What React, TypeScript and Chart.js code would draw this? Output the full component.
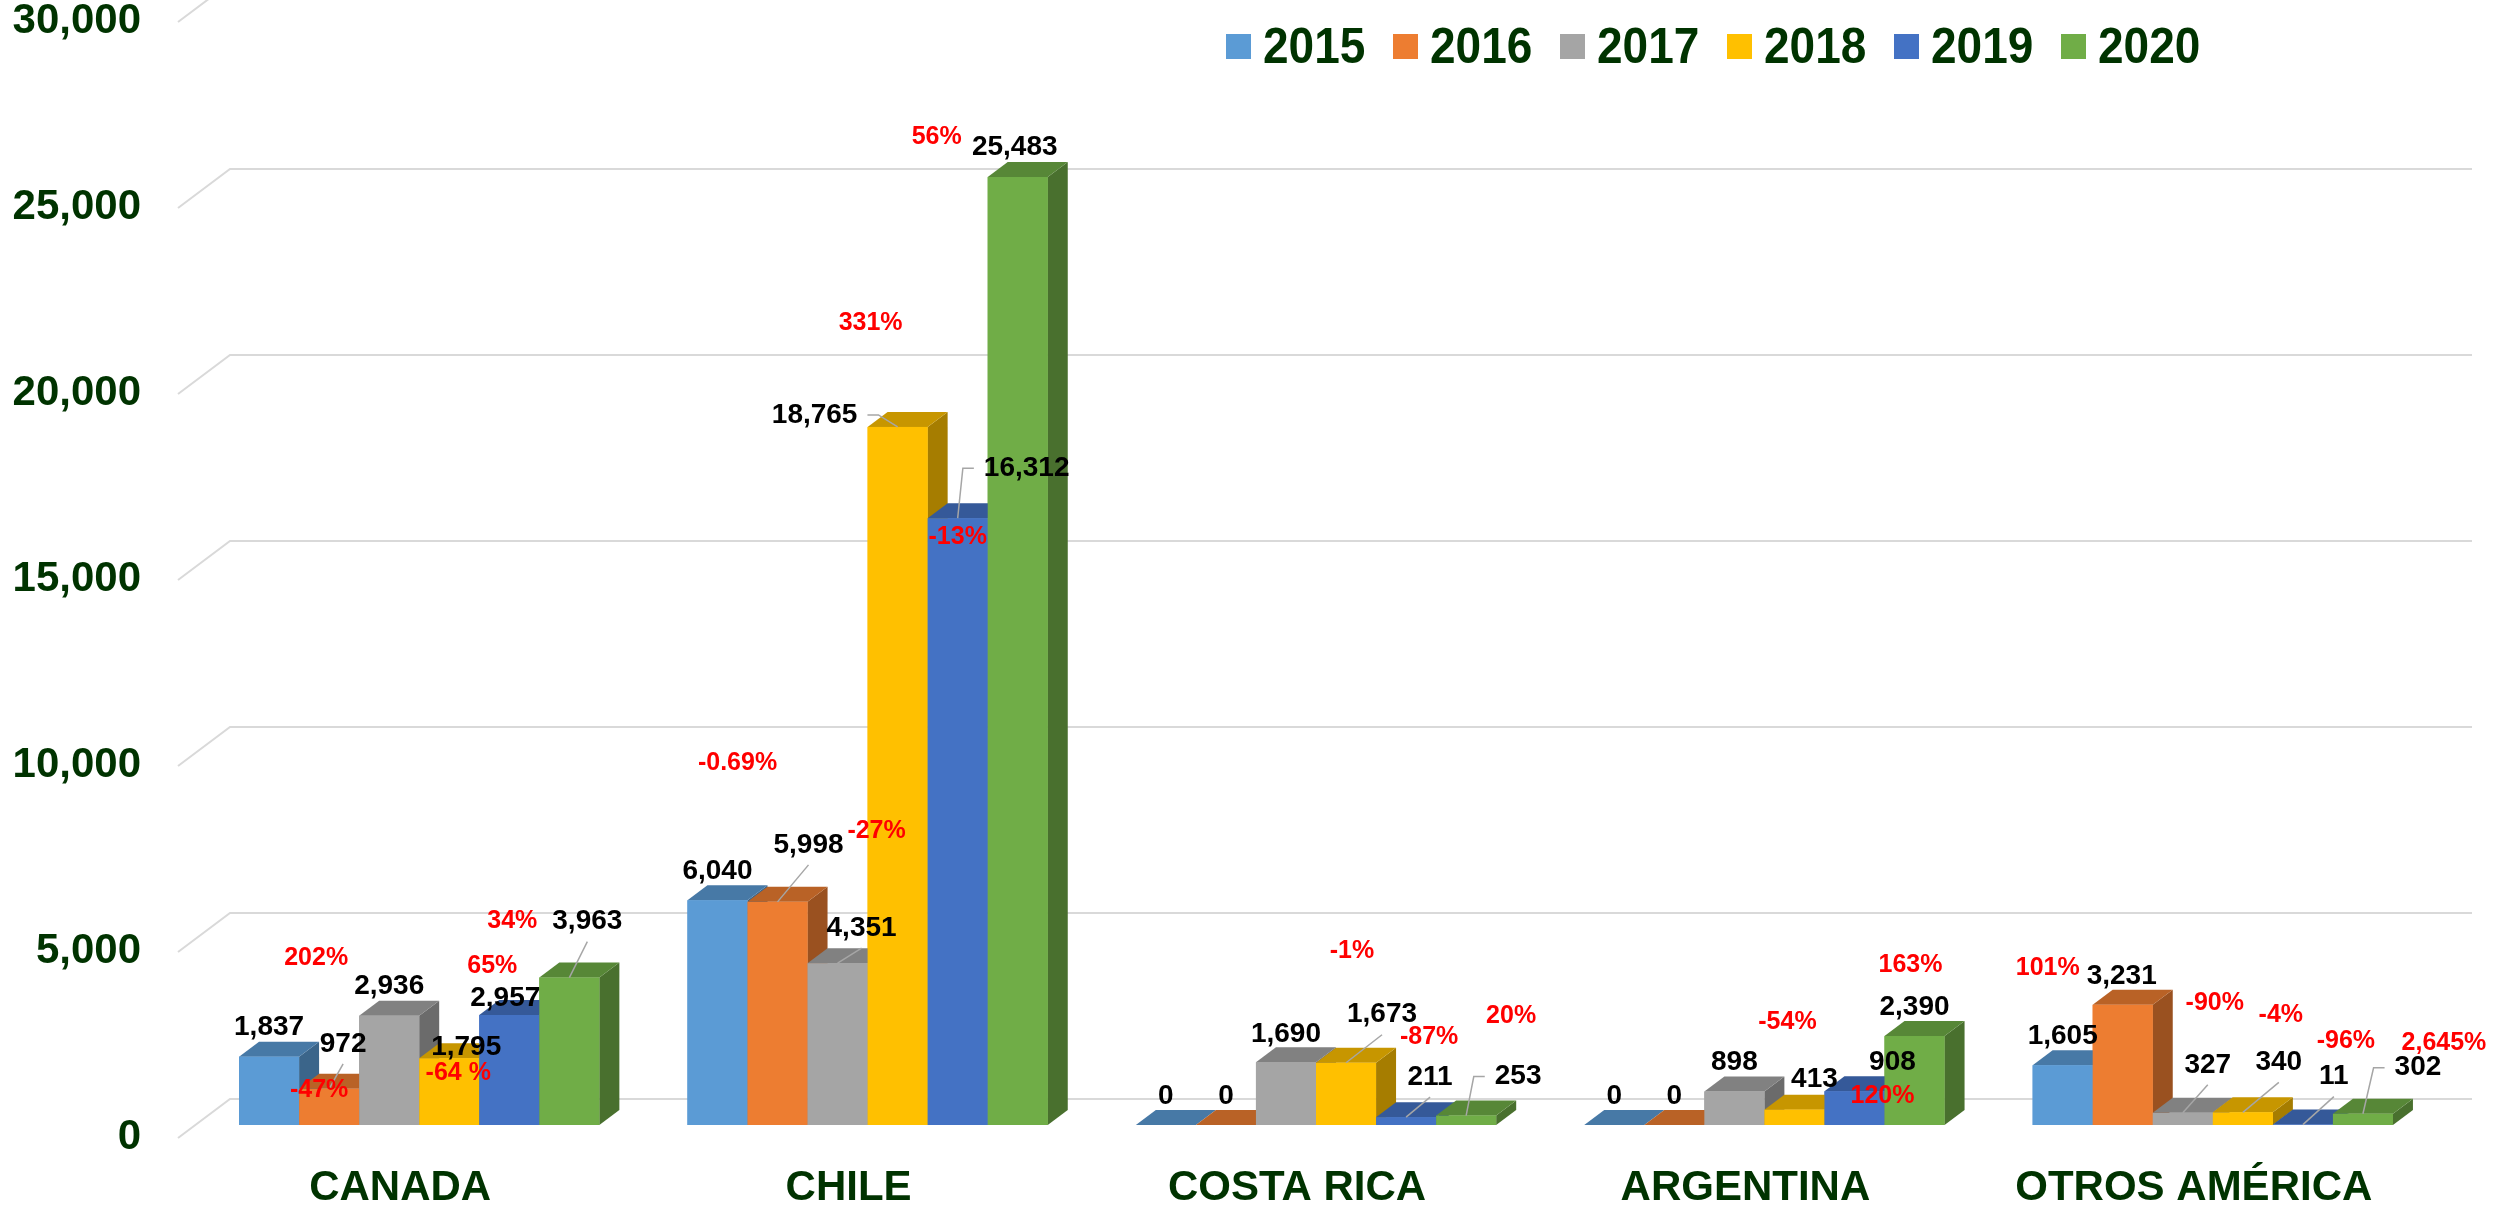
import React, { useEffect, useRef } from "react";
import { Chart, registerables } from "chart.js";

Chart.register(...registerables);

// ---------------- data ----------------
const categories = ["CANADA", "CHILE", "COSTA RICA", "ARGENTINA", "OTROS AMÉRICA"];
const years = ["2015", "2016", "2017", "2018", "2019", "2020"];

const values2015 = [1837, 6040, 0, 0, 1605];
const values2016 = [972, 5998, 0, 0, 3231];
const values2017 = [2936, 4351, 1690, 898, 327];
const values2018 = [1795, 18765, 1673, 413, 340];
const values2019 = [2957, 16312, 211, 908, 11];
const values2020 = [3963, 25483, 253, 2390, 302];

// year-over-year change labels (attached to the later year's bar)
const pct2015: (string | null)[] = [null, null, null, null, null];
const pct2016: (string | null)[] = ["-47%", "-0.69%", null, null, "101%"];
const pct2017: (string | null)[] = ["202%", "-27%", null, null, "-90%"];
const pct2018: (string | null)[] = ["-64 %", "331%", "-1%", "-54%", "-4%"];
const pct2019: (string | null)[] = ["65%", "-13%", "-87%", "120%", "-96%"];
const pct2020: (string | null)[] = ["34%", "56%", "20%", "163%", "2,645%"];

const yMin = 0;
const yMax = 30000;
const yStep = 5000;

// ---------------- styles / layout ----------------
const seriesColors = ["#5B9BD5", "#ED7D31", "#A5A5A5", "#FFC000", "#4472C4", "#70AD47"];
const FONT = "'Liberation Sans', Arial, Helvetica, sans-serif";
const AXIS_COLOR = "#003300";

// value-label placement relative to bar top-front-center: [dx, dy, leaderKind]
// leaderKind: 0 none, 1 below label, 2 left side, 3 right side
const valueLabelLayout2015 = [[0, -29, 0], [0, -29, 0], [0, -29, 0], [0, -29, 0], [0, -29, 0]];
const valueLabelLayout2016 = [[14, -45, 1], [31, -57, 1], [0, -29, 0], [0, -29, 0], [-1, -29, 0]];
const valueLabelLayout2017 = [[0, -29, 0], [24, -35, 1], [0, -28, 0], [0, -29, 0], [25, -48, 1]];
const valueLabelLayout2018 = [[17, -11, 0], [-83, -12, 3], [36, -48, 1], [20, -30, 0], [36, -50, 1]];
const valueLabelLayout2019 = [[-4, -17, 0], [69, -50, 2], [24, -40, 1], [38, -29, 0], [31, -48, 1]];
const valueLabelLayout2020 = [[18, -56, 1], [-3, -30, 0], [52, -39, 2], [0, -29, 0], [55, -46, 2]];

// percent-label placement relative to bar top-front-center: [dx, dy]
const pctLabelLayout2015 = [[0, 0], [0, 0], [0, 0], [0, 0], [0, 0]];
const pctLabelLayout2016 = [[-10, 1], [-40, -139], [0, 0], [0, 0], [-75, -37]];
const pctLabelLayout2017 = [[-73, -58], [39, -132], [0, 0], [0, 0], [32, -110]];
const pctLabelLayout2018 = [[9, 15], [-27, -104], [6, -112], [-7, -88], [38, -97]];
const pctLabelLayout2019 = [[-17, -49], [0, 19], [23, -80], [28, 5], [43, -83]];
const pctLabelLayout2020 = [[-57, -56], [-81, -40], [45, -99], [-4, -71], [81, -71]];

const seriesValues = [values2015, values2016, values2017, values2018, values2019, values2020];
const seriesPct = [pct2015, pct2016, pct2017, pct2018, pct2019, pct2020];
const valueLayouts = [valueLabelLayout2015, valueLabelLayout2016, valueLabelLayout2017, valueLabelLayout2018, valueLabelLayout2019, valueLabelLayout2020];
const pctLayouts = [pctLabelLayout2015, pctLabelLayout2016, pctLabelLayout2017, pctLabelLayout2018, pctLabelLayout2019, pctLabelLayout2020];

// 3D geometry
const BAR_DX = 20;
const BAR_DY = -15;
const WALL_FRONT_X = -17;
const WALL_FRONT_Y = 13;
const WALL_BACK_X = 35;
const WALL_BACK_Y = -26;

function shade(hex: string, f: number): string {
  const n = parseInt(hex.slice(1), 16);
  const r = Math.round(((n >> 16) & 255) * f);
  const g = Math.round(((n >> 8) & 255) * f);
  const b = Math.round((n & 255) * f);
  return `rgb(${r},${g},${b})`;
}

const fmt = (v: number) => v.toLocaleString("en-US");

const wallGridPlugin = {
  id: "wallGrid",
  beforeDatasetsDraw(chart: any) {
    const { ctx, chartArea, scales } = chart;
    const ys = scales.y;
    ctx.save();
    ctx.strokeStyle = "#D9D9D9";
    ctx.lineWidth = 2;
    ys.ticks.forEach((t: any) => {
      const p = ys.getPixelForValue(t.value);
      ctx.beginPath();
      ctx.moveTo(chartArea.left + WALL_FRONT_X, p + WALL_FRONT_Y);
      ctx.lineTo(chartArea.left + WALL_BACK_X, p + WALL_BACK_Y);
      ctx.lineTo(chartArea.right + WALL_BACK_X, p + WALL_BACK_Y);
      ctx.stroke();
    });
    ctx.restore();
  },
};

function drawLeader(ctx: any, kind: number, lx: number, ly: number, tw: number, ax: number, ay: number) {
  if (!kind) return;
  ctx.beginPath();
  if (kind === 1) {
    ctx.moveTo(lx, ly + 20);
    ctx.lineTo(ax, ay);
  } else if (kind === 2) {
    const sx = lx - tw / 2 - 10;
    ctx.moveTo(sx, ly);
    ctx.lineTo(sx - 11, ly);
    ctx.lineTo(ax, ay);
  } else if (kind === 3) {
    const sx = lx + tw / 2 + 10;
    ctx.moveTo(sx, ly);
    ctx.lineTo(sx + 11, ly);
    ctx.lineTo(ax, ay);
  }
  ctx.stroke();
}

const bars3dPlugin = {
  id: "bars3d",
  afterDatasetsDraw(chart: any) {
    const { ctx } = chart;
    const nCat = chart.data.labels.length;
    const nSet = chart.data.datasets.length;
    ctx.save();
    // bars, left to right so nearer bars cover side faces
    for (let i = 0; i < nCat; i++) {
      for (let j = 0; j < nSet; j++) {
        const el = chart.getDatasetMeta(j).data[i];
        if (!el) continue;
        const col = seriesColors[j];
        const L = el.x - el.width / 2;
        const R = el.x + el.width / 2;
        const T = Math.min(el.y, el.base);
        const B = Math.max(el.y, el.base);
        // side
        ctx.fillStyle = shade(col, 0.65);
        ctx.beginPath();
        ctx.moveTo(R, T);
        ctx.lineTo(R + BAR_DX, T + BAR_DY);
        ctx.lineTo(R + BAR_DX, B + BAR_DY);
        ctx.lineTo(R, B);
        ctx.closePath();
        ctx.fill();
        // top
        ctx.fillStyle = shade(col, 0.78);
        ctx.beginPath();
        ctx.moveTo(L, T);
        ctx.lineTo(R, T);
        ctx.lineTo(R + BAR_DX, T + BAR_DY);
        ctx.lineTo(L + BAR_DX, T + BAR_DY);
        ctx.closePath();
        ctx.fill();
        // front
        ctx.fillStyle = col;
        ctx.fillRect(L, T, R - L, B - T);
      }
    }
    // value labels + leaders
    ctx.textAlign = "center";
    ctx.textBaseline = "middle";
    ctx.strokeStyle = "#A6A6A6";
    ctx.lineWidth = 1.5;
    for (let j = 0; j < nSet; j++) {
      const meta = chart.getDatasetMeta(j);
      for (let i = 0; i < nCat; i++) {
        const el = meta.data[i];
        const v = chart.data.datasets[j].data[i];
        const lay = valueLayouts[j][i];
        const lx = el.x + lay[0];
        const ly = el.y + lay[1];
        const txt = fmt(v);
        ctx.font = `bold 28px ${FONT}`;
        const tw = ctx.measureText(txt).width;
        drawLeader(ctx, lay[2], lx, ly, tw, el.x, el.y);
        ctx.fillStyle = "#000000";
        ctx.fillText(txt, lx, ly);
      }
    }
    // percent labels
    ctx.font = `bold 25px ${FONT}`;
    ctx.fillStyle = "#FF0000";
    for (let j = 0; j < nSet; j++) {
      const meta = chart.getDatasetMeta(j);
      for (let i = 0; i < nCat; i++) {
        const p = seriesPct[j][i];
        if (!p) continue;
        const el = meta.data[i];
        const lay = pctLayouts[j][i];
        ctx.fillText(p, el.x + lay[0], el.y + lay[1]);
      }
    }
    ctx.restore();
  },
};

const LEG_X = 1226;
const LEG_STEP = 167;
const LEG_BOX_Y = 34;
const LEG_BOX = 25;
const LEG_BASELINE = 63;

const legendPlugin = {
  id: "customLegend",
  afterDraw(chart: any) {
    const { ctx } = chart;
    ctx.save();
    chart.data.datasets.forEach((ds: any, j: number) => {
      const x = LEG_X + j * LEG_STEP;
      ctx.fillStyle = ds.backgroundColor;
      ctx.fillRect(x, LEG_BOX_Y, LEG_BOX, LEG_BOX);
      ctx.save();
      ctx.translate(x + LEG_BOX + 12, LEG_BASELINE);
      ctx.scale(0.92, 1);
      ctx.font = `bold 50px ${FONT}`;
      ctx.fillStyle = AXIS_COLOR;
      ctx.textAlign = "left";
      ctx.textBaseline = "alphabetic";
      ctx.fillText(ds.label, 0, 0);
      ctx.restore();
    });
    ctx.restore();
  },
};

export default function App() {
  const canvasRef = useRef<HTMLCanvasElement | null>(null);

  useEffect(() => {
    document.body.style.margin = "0";
    const canvas = canvasRef.current;
    if (!canvas) return;
    const chart = new Chart(canvas, {
      type: "bar",
      data: {
        labels: categories,
        datasets: years.map((y, j) => ({
          label: y,
          data: seriesValues[j],
          backgroundColor: seriesColors[j],
          borderWidth: 0,
          categoryPercentage: 360 / 448,
          barPercentage: 1,
        })),
      },
      options: {
        responsive: false,
        animation: false,
        devicePixelRatio: 1,
        layout: { padding: { top: 9, right: 57, left: 0, bottom: 0 } },
        plugins: {
          legend: { display: false },
          tooltip: { enabled: false },
        },
        scales: {
          x: {
            grid: { display: false, drawTicks: false },
            border: { display: false },
            ticks: {
              color: AXIS_COLOR,
              font: { family: FONT, size: 42, weight: "bold" },
              padding: 38,
              labelOffset: -19,
              maxRotation: 0,
              autoSkip: false,
            },
            afterFit: (s: any) => {
              s.height = 82;
              s.paddingLeft = 0;
              s.paddingRight = 0;
            },
          },
          y: {
            min: yMin,
            max: yMax,
            grid: { display: false, drawTicks: false },
            border: { display: false },
            ticks: {
              stepSize: yStep,
              color: AXIS_COLOR,
              font: { family: FONT, size: 42, weight: "bold" },
              padding: 54,
              labelOffset: 12,
              callback: (v: any) => fmt(Number(v)),
            },
            afterFit: (s: any) => {
              s.width = 195;
              s.paddingTop = 0;
              s.paddingBottom = 0;
            },
          },
        },
      } as any,
      plugins: [wallGridPlugin, bars3dPlugin, legendPlugin],
    });
    return () => chart.destroy();
  }, []);

  return (
    <canvas
      ref={canvasRef}
      width={2494}
      height={1207}
      style={{ display: "block", width: "2494px", height: "1207px" }}
    />
  );
}
